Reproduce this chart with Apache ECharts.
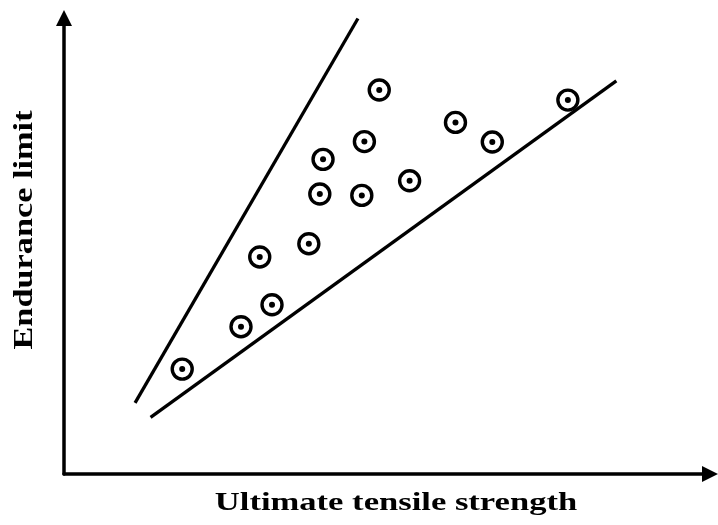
<!DOCTYPE html>
<html>
<head>
<meta charset="utf-8">
<script src="https://cdn.jsdelivr.net/npm/echarts@6/dist/echarts.min.js"></script>
<style>
html,body{margin:0;padding:0;background:#fff;}
#chart{width:718px;height:525px;}
</style>
</head>
<body>
<div id="chart"></div>
<script>
// Scatter data (arbitrary units)
const strength  = [18.3, 27.4, 32.2, 30.3, 37.9, 39.6, 40.1, 46.1, 46.5, 48.8, 53.5, 60.6, 66.3, 78.0];
const endurance = [23.0, 32.3, 37.1, 47.6, 50.5, 61.4, 69.0, 61.1, 72.9, 84.2, 64.3, 77.1, 72.8, 82.0];
// Upper bound line (start, end)
const upperX = [11.0, 45.5];
const upperY = [15.6, 99.9];
// Lower bound line (start, end)
const lowerX = [13.4, 85.5];
const lowerY = [12.4, 86.2];
const xTitle = 'Ultimate tensile strength';
const yTitle = 'Endurance limit';

const pts = strength.map((v, i) => [v, endurance[i]]);
const upper = upperX.map((v, i) => [v, upperY[i]]);
const lower = lowerX.map((v, i) => [v, lowerY[i]]);

const chart = echarts.init(document.getElementById('chart'), null, {renderer: 'canvas'});
const axisCommon = {
  type: 'value', min: 0, max: 100,
  axisTick: {show: false}, axisLabel: {show: false}, splitLine: {show: false},
  axisLine: {show: true, onZero: false, symbol: ['none', 'triangle'], symbolSize: [16, 16],
    lineStyle: {color: '#000', width: 3.5}}
};
chart.setOption({
  animation: false,
  backgroundColor: '#fff',
  grid: {left: 64, right: 8, top: 18, bottom: 51},
  xAxis: axisCommon,
  yAxis: axisCommon,
  graphic: [
    {type: 'text', x: 396, y: 503, scaleX: 1.33,
      style: {text: xTitle, fontFamily: 'Liberation Serif', fontWeight: 'bold', fontSize: 26,
        fill: '#000', align: 'center', verticalAlign: 'middle'}},
    {type: 'text', x: 25, y: 230, rotation: Math.PI / 2, scaleX: 1.27,
      style: {text: yTitle, fontFamily: 'Liberation Serif', fontWeight: 'bold', fontSize: 27,
        fill: '#000', align: 'center', verticalAlign: 'middle'}}
  ],
  series: [
    {type: 'line', data: upper, symbol: 'none', lineStyle: {color: '#000', width: 3.3}, z: 1, silent: true},
    {type: 'line', data: lower, symbol: 'none', lineStyle: {color: '#000', width: 3.3}, z: 1, silent: true},
    {type: 'scatter', data: pts, symbol: 'circle', symbolSize: 20, z: 2, silent: true,
      itemStyle: {color: '#fff', borderColor: '#000', borderWidth: 3.4, opacity: 1}},
    {type: 'scatter', data: pts, symbol: 'circle', symbolSize: 6, z: 3, silent: true,
      itemStyle: {color: '#000', opacity: 1}}
  ]
});
</script>
</body>
</html>
